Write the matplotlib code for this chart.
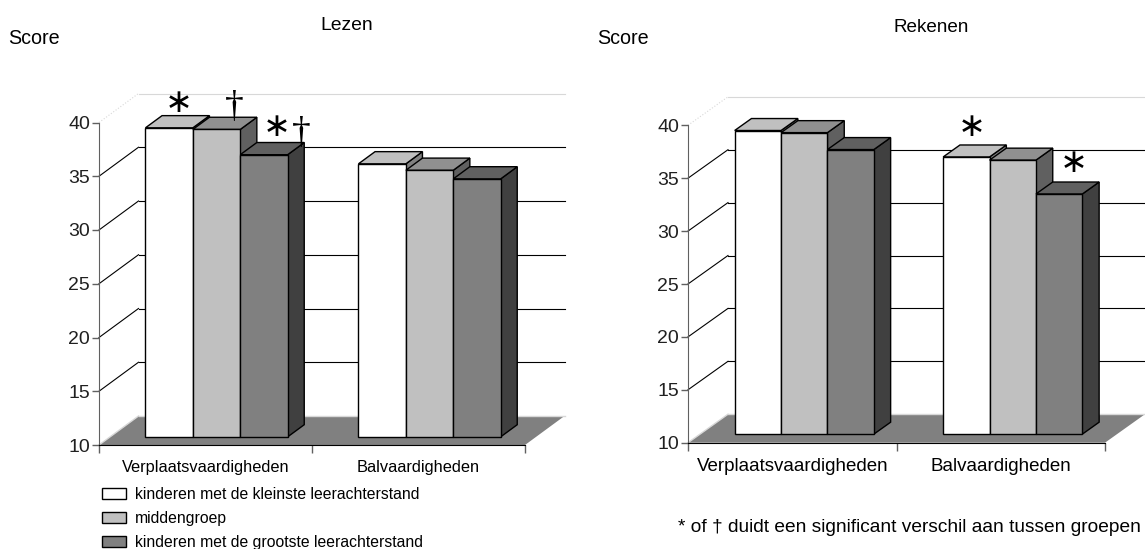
import matplotlib
matplotlib.use('Agg')
import matplotlib.pyplot as plt
from matplotlib.patches import Polygon, Patch

W, H = 1145, 549
FONT = 'Liberation Sans'

categories = ['Verplaatsvaardigheden', 'Balvaardigheden']
groups = ['kinderen met de kleinste leerachterstand', 'middengroep',
          'kinderen met de grootste leerachterstand']
y_ticks = [10, 15, 20, 25, 30, 35, 40]

lezen_klein = [38.75, 35.4]
lezen_midden = [38.6, 34.8]
lezen_groot = [36.25, 34.0]

rekenen_klein = [38.7, 36.2]
rekenen_midden = [38.5, 35.9]
rekenen_groot = [36.9, 32.7]

front_colors = ['#ffffff', '#c0c0c0', '#808080']
top_colors = ['#c0c0c0', '#909090', '#606060']
side_colors = ['#808080', '#606060', '#404040']

plt.rcParams['font.family'] = FONT
fig = plt.figure(figsize=(W / 100, H / 100), dpi=100)


def fig_text(x, y, s, **kw):
    # x and y counted in pixels from the top left corner
    fig.text(x / W, 1 - y / H, s, **kw)


def draw_panel(left, right, top, bottom, depth_x, depth_y, bar_width, bar_base,
               series, cat_size):
    ax = fig.add_axes([left / W, 1 - bottom / H, (right - left) / W, (bottom - top) / H])
    ax.set_xlim(0, 2)
    ax.set_ylim(10, 40)
    ax.patch.set_alpha(0)

    px_x = (right - left) / 2
    px_y = (bottom - top) / 30
    dx = depth_x / px_x
    dy = depth_y / px_y

    def proj(x, y, d):
        return (x + d * dx, y + d * dy)

    # floor
    ax.add_patch(Polygon([proj(0, 10, 0), proj(2, 10, 0), proj(2, 10, 1), proj(0, 10, 1)],
                         fc='#808080', ec='none', clip_on=False, zorder=1))
    ax.plot(*zip(proj(0, 10, 1), proj(2, 10, 1)), color='#d8d8d8', lw=1, clip_on=False, zorder=1)

    # gridlines on the back wall and the side wall
    for v in y_ticks:
        if v == 10:
            continue
        faint = v == 40
        c = '#d8d8d8' if faint else 'black'
        ax.plot(*zip(proj(0, v, 1), proj(2, v, 1)), color=c, lw=0.8, clip_on=False, zorder=1)
        ax.plot(*zip(proj(0, v, 0), proj(0, v, 1)), color=c, lw=0.8, clip_on=False, zorder=1,
                ls=':' if faint else '-')
    ax.plot(*zip(proj(0, 10, 0), proj(0, 10, 1)), color='#d8d8d8', lw=1, clip_on=False, zorder=1)

    # bars, front to back depth between d0 and d1
    d0 = bar_base
    d1 = bar_base + 0.42
    base = 10
    for c in range(2):
        for i, values in enumerate(series):
            x0 = c + 0.5 - 1.5 * bar_width + i * bar_width
            x1 = x0 + bar_width
            v = values[c]
            z = 3 + i * 0.1 + c
            edge = dict(ec='black', lw=1, clip_on=False, zorder=z, joinstyle='miter')
            ax.add_patch(Polygon([proj(x1, base, d0), proj(x1, base, d1),
                                  proj(x1, v, d1), proj(x1, v, d0)],
                                 fc=side_colors[i], **edge))
            ax.add_patch(Polygon([proj(x0, v, d0), proj(x1, v, d0),
                                  proj(x1, v, d1), proj(x0, v, d1)],
                                 fc=top_colors[i], **edge))
            ax.add_patch(Polygon([proj(x0, base, d0), proj(x1, base, d0),
                                  proj(x1, v, d0), proj(x0, v, d0)],
                                 fc=front_colors[i], **edge))

    for s in ['top', 'right']:
        ax.spines[s].set_visible(False)
    ax.spines['left'].set_color('#606060')
    ax.spines['bottom'].set_color('black')
    ax.spines['left'].set_zorder(2)
    ax.spines['bottom'].set_zorder(2)
    ax.set_yticks(y_ticks)
    ax.set_yticklabels([str(v) for v in y_ticks], fontsize=14, color='#202020')
    ax.tick_params(axis='y', length=5, width=1, color='#606060', pad=1.5)
    ax.set_xticks([0, 1, 2])
    ax.set_xticklabels(['', '', ''])
    ax.tick_params(axis='x', length=6, width=1, color='#606060')
    ax.set_xticks([0.5, 1.5], minor=True)
    ax.set_xticklabels(categories, minor=True, fontsize=cat_size)
    ax.tick_params(axis='x', which='minor', length=0, pad=11)
    return ax


draw_panel(99, 525, 122.5, 445, 39.5, 29, 0.2225, 0.28,
           [lezen_klein, lezen_midden, lezen_groot], 11.8)
draw_panel(688, 1105, 125.3, 442.7, 40, 28.5, 0.2225, 0.3,
           [rekenen_klein, rekenen_midden, rekenen_groot], 13.5)

# titles and axis captions
fig_text(346.5, 25, 'Lezen', fontsize=13.9, ha='center', va='center')
fig_text(931, 28, 'Rekenen', fontsize=13.6, ha='center', va='center')
fig_text(8, 39, 'Score', fontsize=14.2, ha='left', va='center')
fig_text(597, 39, 'Score', fontsize=14.2, ha='left', va='center')

# significance marks
star = dict(fontsize=24, family='DejaVu Sans', ha='center', va='center')
dagger = dict(fontsize=27, family='Liberation Serif', ha='center', va='center')
fig_text(179, 102, '\u2217', **star)
fig_text(234, 108, '\u2020', **dagger)
fig_text(277, 127, '\u2217', **star)
fig_text(301, 134, '\u2020', **dagger)
fig_text(972, 126, '\u2217', **star)
fig_text(1074, 163, '\u2217', **star)

fig_text(678, 527, '* of \u2020 duidt een significant verschil aan tussen groepen',
         fontsize=13.8, ha='left', va='center')

handles = [Patch(fc=front_colors[i], ec='black', lw=1, label=groups[i]) for i in range(3)]
fs = 11.3
px = fs * 100 / 72
fig.legend(handles=handles, loc='upper left', bbox_to_anchor=(101.7 / W, 1 - 487 / H),
           frameon=False, fontsize=fs, borderpad=0, borderaxespad=0,
           handlelength=24 / px, handleheight=12 / px, handletextpad=9 / px,
           labelspacing=0.57)

fig.savefig('out.png', dpi=100)
